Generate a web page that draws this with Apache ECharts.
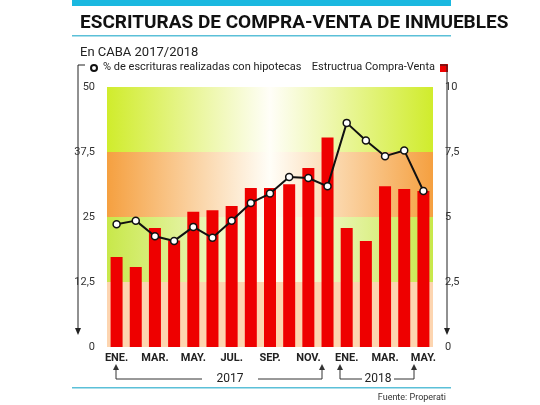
<!DOCTYPE html>
<html><head><meta charset="utf-8">
<script src="https://cdn.jsdelivr.net/npm/echarts@6/dist/echarts.min.js"></script>
<style>html,body{margin:0;padding:0;background:#fff}#c{width:540px;height:405px}</style>
</head><body><div id="c"></div>
<script>
const categories = ['ENE.','FEB.','MAR.','ABR.','MAY.','JUN.','JUL.','AGO.','SEP.','OCT.','NOV.','DIC.','ENE.','FEB.','MAR.','ABR.','MAY.'];
const hipotecas = [23.6,24.3,21.3,20.4,23.1,21,24.3,27.7,29.5,32.7,32.5,30.9,43.1,39.7,36.7,37.8,30];
const compraVenta = [3.46,3.08,4.58,4.1,5.2,5.26,5.42,6.12,6.12,6.26,6.88,8.06,4.58,4.08,6.18,6.08,6.0];
const leftTicks = ['0','12,5','25','37,5','50'];
const rightTicks = ['0','2,5','5','7,5','10'];

const F = 'Liberation Sans Narrow, Roboto, sans-serif';
function grad(edge){return {type:'linear',x:0,y:0,x2:1,y2:0,colorStops:[{offset:0,color:edge},{offset:0.5,color:'#fffef8'},{offset:1,color:edge}]};}
const chart = echarts.init(document.getElementById('c'));
chart.setOption({
  animation:false,
  grid:{left:107,right:107,top:87,bottom:58},
  xAxis:{type:'category',data:categories,axisLine:{show:false},axisTick:{show:false},
    axisLabel:{interval:1,color:'#222',fontFamily:F,fontWeight:'bold',fontSize:11,margin:6}},
  yAxis:[
    {type:'value',min:0,max:50,interval:12.5,splitLine:{show:false},axisLine:{show:false},axisTick:{show:false},
     axisLabel:{color:'#333',fontFamily:F,fontSize:11,margin:12,formatter:(v)=>leftTicks[Math.round(v/12.5)]}},
    {type:'value',min:0,max:10,interval:2.5,splitLine:{show:false},axisLine:{show:false},axisTick:{show:false},
     axisLabel:{color:'#333',fontFamily:F,fontSize:11,margin:12,formatter:(v)=>rightTicks[Math.round(v/2.5)]}}
  ],
  series:[
    {type:'bar',yAxisIndex:1,data:compraVenta,barWidth:12,itemStyle:{color:'#ee0000'},z:2,
     markArea:{silent:true,z:1,data:[
       [{yAxis:0,itemStyle:{color:'#fdd5b0'}},{yAxis:2.5}],
       [{yAxis:2.5,itemStyle:{color:grad('#c8e84a')}},{yAxis:5}],
       [{yAxis:5,itemStyle:{color:grad('#f5a040')}},{yAxis:7.5}],
       [{yAxis:7.5,itemStyle:{color:grad('#d0ec2c')}},{yAxis:10}]
     ]}},
    {type:'line',yAxisIndex:0,data:hipotecas,symbol:'circle',symbolSize:7,z:3,
     lineStyle:{color:'#111',width:2},itemStyle:{color:'#fff',borderColor:'#111',borderWidth:1.5}}
  ],
  graphic:[
    {type:'rect',shape:{x:72,y:0,width:379,height:6},style:{fill:'#1ab8e0'}},
    {type:'text',left:80,top:14,style:{text:'ESCRITURAS DE COMPRA-VENTA DE INMUEBLES',font:'bold 19px '+F,fill:'#111'}},
    {type:'rect',shape:{x:72,y:35,width:379,height:1.5},style:{fill:'#5bc0d8'}},
    {type:'text',left:80,top:46,style:{text:'En CABA 2017/2018',font:'13px '+F,fill:'#222'}},
    {type:'circle',shape:{cx:94,cy:68,r:3},style:{fill:'#fff',stroke:'#111',lineWidth:2}},
    {type:'text',left:103,top:62,style:{text:'% de escrituras realizadas con hipotecas',font:'11px '+F,fill:'#222'}},
    {type:'text',right:105,top:62,style:{text:'Estructrua Compra-Venta',font:'11px '+F,fill:'#222'}},
    {type:'rect',shape:{x:440,y:64,width:8,height:8},style:{fill:'#ee0000'}},
    {type:'polyline',shape:{points:[[85,65],[78,65],[78,330]]},style:{stroke:'#222',fill:null,lineWidth:1}},
    {type:'polygon',shape:{points:[[75,328],[81,328],[78,335]]},style:{fill:'#222'}},
    {type:'polyline',shape:{points:[[440,65],[447,65],[447,330]]},style:{stroke:'#222',fill:null,lineWidth:1}},
    {type:'polygon',shape:{points:[[444,328],[450,328],[447,335]]},style:{fill:'#222'}},
    {type:'polyline',shape:{points:[[116,367],[116,379],[202,379]]},style:{stroke:'#333',fill:null,lineWidth:1}},
    {type:'polyline',shape:{points:[[258,379],[322,379],[322,367]]},style:{stroke:'#333',fill:null,lineWidth:1}},
    {type:'text',x:230,y:379,style:{text:'2017',font:'12px '+F,fill:'#222',align:'center',verticalAlign:'middle'}},
    {type:'polyline',shape:{points:[[340,367],[340,379],[362,379]]},style:{stroke:'#333',fill:null,lineWidth:1}},
    {type:'polyline',shape:{points:[[394,379],[414,379],[414,367]]},style:{stroke:'#333',fill:null,lineWidth:1}},
    {type:'text',x:378,y:379,style:{text:'2018',font:'12px '+F,fill:'#222',align:'center',verticalAlign:'middle'}},
    {type:'polygon',shape:{points:[[113,370],[119,370],[116,364]]},style:{fill:'#333'}},
    {type:'polygon',shape:{points:[[319,370],[325,370],[322,364]]},style:{fill:'#333'}},
    {type:'polygon',shape:{points:[[337,370],[343,370],[340,364]]},style:{fill:'#333'}},
    {type:'polygon',shape:{points:[[411,370],[417,370],[414,364]]},style:{fill:'#333'}},
    {type:'rect',shape:{x:72,y:387,width:379,height:1.5},style:{fill:'#5bc0d8'}},
    {type:'text',right:94,top:393,style:{text:'Fuente: Properati',font:'9px '+F,fill:'#333'}}
  ]
});
</script></body></html>
